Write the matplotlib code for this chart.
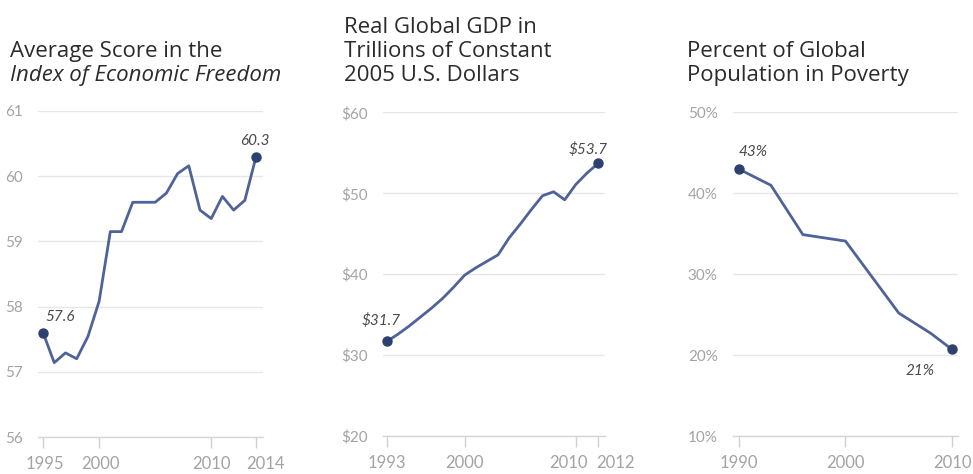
import matplotlib
matplotlib.use("Agg")
import matplotlib.pyplot as plt
from matplotlib.transforms import ScaledTranslation

plt.rcParams['font.family'] = ['Lato', 'DejaVu Sans']

# Index of Economic Freedom, average score
ief_years = list(range(1995, 2015))
ief_score = [57.6, 57.14, 57.29, 57.2, 57.54, 58.08, 59.15, 59.15, 59.6, 59.6,
             59.6, 59.74, 60.04, 60.16, 59.48, 59.35, 59.69, 59.48, 59.63, 60.3]

# real global GDP, trillions of constant 2005 US$
gdp_years = list(range(1993, 2013))
gdp_value = [31.7, 32.6, 33.6, 34.7, 35.8, 37.0, 38.4, 39.9, 40.8, 41.6,
             42.4, 44.5, 46.2, 48.0, 49.7, 50.2, 49.2, 51.1, 52.5, 53.7]

# share of global population in poverty
pov_years = [1990, 1993, 1996, 2000, 2005, 2008, 2010]
pov_pct = [43.0, 41.0, 34.9, 34.1, 25.2, 22.7, 20.7]

W, H = 973, 474
fig = plt.figure(figsize=(W / 100, H / 100), dpi=100)

line_col = '#4f6399'
dot_col = '#2c416f'
tick_col = '#a3a3a3'
grid_col = '#e6e6e6'
title_col = '#2b2b2b'
note_col = '#4a4a4a'


def px_axes(x0, x1, y0, y1):
    # pixel box (top-left origin) -> figure axes
    return fig.add_axes([x0 / W, 1 - y1 / H, (x1 - x0) / W, (y1 - y0) / H])


def style(ax, yticks, ylabels, xticks, shifts=None):
    for s in ['top', 'right', 'left']:
        ax.spines[s].set_visible(False)
    ax.spines['bottom'].set_color('#d6d6d6')
    ax.spines['bottom'].set_linewidth(1)
    ax.set_yticks(yticks)
    ax.set_yticklabels(ylabels)
    ax.set_xticks(xticks)
    ax.set_xticklabels([str(t) for t in xticks])
    ax.tick_params(axis='y', length=0, pad=11, labelsize=11, labelcolor=tick_col)
    ax.tick_params(axis='x', length=8, width=1, color='#d0d0d0', pad=6,
                   labelsize=12, labelcolor=tick_col)
    ax.grid(axis='y', color=grid_col, linewidth=1)
    ax.set_axisbelow(True)
    # nudge crowded year labels sideways (in pixels)
    if shifts:
        for lab, dx in zip(ax.get_xticklabels(), shifts):
            if dx:
                lab.set_transform(lab.get_transform() +
                                  ScaledTranslation(dx / 100, 0, fig.dpi_scale_trans))


def series(ax, xs, ys, first, last, off_first, off_last):
    ax.plot(xs, ys, color=line_col, linewidth=2, solid_joinstyle='round', clip_on=False, zorder=3)
    ax.plot([xs[0], xs[-1]], [ys[0], ys[-1]], 'o', color=dot_col, markersize=6.5,
            clip_on=False, zorder=4)
    ax.annotate(first, (xs[0], ys[0]), xytext=off_first, textcoords='offset pixels',
                ha='center', va='center', style='italic', fontsize=11, color=note_col)
    ax.annotate(last, (xs[-1], ys[-1]), xytext=off_last, textcoords='offset pixels',
                ha='center', va='center', style='italic', fontsize=11, color=note_col)


# panel 1
ax1 = px_axes(38, 263, 111, 437)
ax1.set_xlim(1994.55, 2014.62)
ax1.set_ylim(56, 61)
style(ax1, [56, 57, 58, 59, 60, 61], ['56', '57', '58', '59', '60', '61'],
      [1995, 2000, 2010, 2014], shifts=[2, 1, 0, 9])
series(ax1, ief_years, ief_score, '57.6', '60.3', (17, 16), (-1, 16))

# panel 2
ax2 = px_axes(383, 605, 112.5, 436)
ax2.set_xlim(1992.64, 2012.63)
ax2.set_ylim(20, 60)
style(ax2, [20, 30, 40, 50, 60], ['$20', '$30', '$40', '$50', '$60'],
      [1993, 2000, 2010, 2012], shifts=[0, 0, -7, 17])
series(ax2, gdp_years, gdp_value, '$31.7', '$53.7', (-6, 21), (-10, 14))

# panel 3
ax3 = px_axes(733, 958, 112.5, 436)
ax3.set_xlim(1989.44, 2010.56)
ax3.set_ylim(10, 50)
style(ax3, [10, 20, 30, 40, 50], ['10%', '20%', '30%', '40%', '50%'],
      [1990, 2000, 2010])
series(ax3, pov_years, pov_pct, '43%', '21%', (14, 17), (-32, -22))


def title_line(x, y, s, italic=False):
    fig.text(x / W, 1 - y / H, s, ha='left', va='baseline', fontsize=16,
             family=['Open Sans', 'DejaVu Sans'], color=title_col,
             style='italic' if italic else 'normal')


title_line(10, 57, 'Average Score in the')
title_line(10, 81, 'Index of Economic Freedom', italic=True)

title_line(344, 33, 'Real Global GDP in')
title_line(344, 57, 'Trillions of Constant')
title_line(344, 81, '2005 U.S. Dollars')

title_line(687, 57, 'Percent of Global')
title_line(687, 81, 'Population in Poverty')

fig.savefig('out.png', dpi=100, facecolor='white')
